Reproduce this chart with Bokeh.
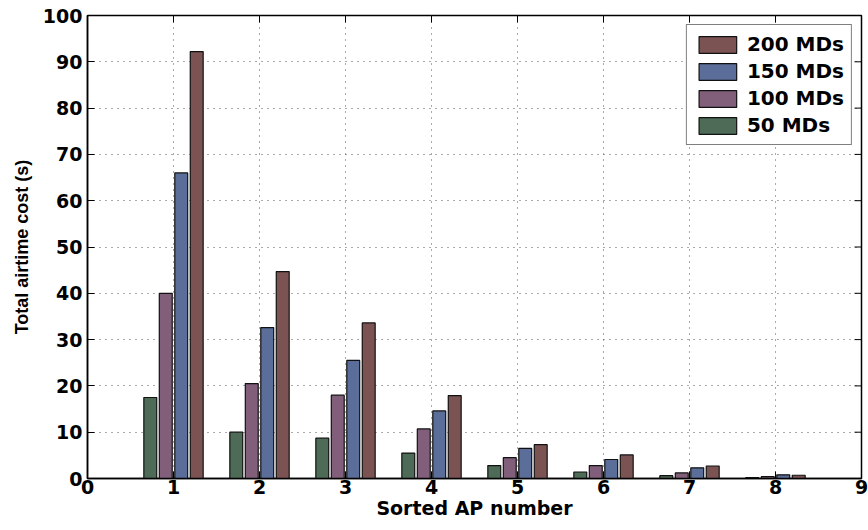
import math
from bokeh.plotting import figure
from bokeh.models import ColumnDataSource, Legend, LegendItem, FixedTicker, Range1d
from bokeh.embed import file_html
from bokeh.resources import INLINE

ap = [1, 2, 3, 4, 5, 6, 7, 8]
md50 = [17.5, 10.0, 8.7, 5.5, 2.8, 1.4, 0.6, 0.2]
md100 = [40.0, 20.5, 18.0, 10.7, 4.5, 2.8, 1.2, 0.4]
md150 = [66.0, 32.6, 25.5, 14.6, 6.5, 4.1, 2.3, 0.8]
md200 = [92.2, 44.7, 33.6, 17.9, 7.3, 5.1, 2.7, 0.7]
labels = ["50 MDs", "100 MDs", "150 MDs", "200 MDs"]
x_ticks = [0, 1, 2, 3, 4, 5, 6, 7, 8, 9]
y_ticks = [0, 10, 20, 30, 40, 50, 60, 70, 80, 90, 100]
colors = ["#4d6b57", "#815f7a", "#5a6e99", "#7b5353"]
offsets = [-0.27, -0.09, 0.09, 0.27]

XMAX, YMAX = 9, 100
FONT = "DejaVu Sans"

p = figure(width=868, height=530, output_backend="svg", toolbar_location=None,
           x_range=Range1d(0, XMAX), y_range=Range1d(0, YMAX),
           min_border_left=87, min_border_right=7, min_border_top=15, min_border_bottom=52)
p.outline_line_color = "black"
p.outline_line_width = 1.5

for g in (p.xgrid[0], p.ygrid[0]):
    g.grid_line_color = "#555555"
    g.grid_line_dash = "1 5"
    g.grid_line_width = 1
p.xgrid.ticker = FixedTicker(ticks=x_ticks)
p.ygrid.ticker = FixedTicker(ticks=y_ticks)

renderers = []
for vals, col, off, lab in zip([md50, md100, md150, md200], colors, offsets, labels):
    src = ColumnDataSource(dict(x=[a + off for a in ap], top=vals))
    r = p.vbar(x="x", top="top", width=0.15, bottom=0, source=src,
               fill_color=col, line_color="#111111", line_width=1.2)
    renderers.append((lab, r))

# inward tick marks on the top and right edges of the box
p.scatter(x=x_ticks, y=[YMAX] * len(x_ticks), marker="dash", size=14, angle=math.pi / 2,
          line_color="black", line_width=1)
p.scatter(x=[XMAX] * len(y_ticks), y=y_ticks, marker="dash", size=14,
          line_color="black", line_width=1)

for ax in (p.xaxis[0], p.yaxis[0]):
    ax.major_tick_in = 7
    ax.major_tick_out = 0
    ax.minor_tick_in = 0
    ax.minor_tick_out = 0
    ax.axis_line_width = 1.5
    ax.major_tick_line_width = 1
    ax.major_label_text_font = FONT
    ax.major_label_text_font_style = "bold"
    ax.major_label_text_font_size = "19px"
    ax.major_label_text_color = "black"
    ax.axis_label_text_font_style = "bold"
    ax.axis_label_text_color = "black"

p.xaxis.ticker = FixedTicker(ticks=x_ticks)
p.yaxis.ticker = FixedTicker(ticks=y_ticks)
p.xaxis.axis_label = "Sorted AP number"
p.yaxis.axis_label = "Total airtime cost (s)"
p.xaxis.axis_label_text_font = FONT
p.xaxis.axis_label_text_font_size = "19px"
p.yaxis.axis_label_text_font = "Liberation Sans"
p.yaxis.axis_label_text_font_size = "18px"
p.xaxis.major_label_standoff = 1
p.xaxis.axis_label_standoff = 0
p.yaxis.major_label_standoff = 5
p.yaxis.axis_label_standoff = 8

items = [LegendItem(label=lab, renderers=[r]) for lab, r in reversed(renderers)]
legend = Legend(items=items, location="top_right")
legend.label_text_font = FONT
legend.label_text_font_style = "bold"
legend.label_text_font_size = "20px"
legend.label_text_color = "black"
legend.glyph_width = 47
legend.glyph_height = 21
legend.label_height = 21
legend.label_standoff = 6
legend.spacing = 3
legend.padding = 7
legend.margin = 9
legend.border_line_color = "black"
legend.border_line_width = 1.2
legend.background_fill_alpha = 1
p.add_layout(legend, "center")

open("out.html", "w").write(file_html(p, INLINE))
